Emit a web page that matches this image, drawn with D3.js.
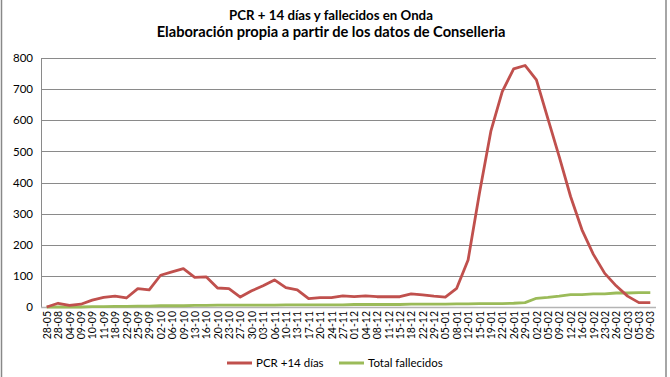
<!DOCTYPE html>
<html>
<head>
<meta charset="utf-8">
<script src="https://cdn.jsdelivr.net/npm/d3@7"></script>
<style>
  body { margin: 0; background: #fff; }
  svg { display: block; font-family: Lato, "Open Sans", sans-serif; }
</style>
</head>
<body>
<svg id="chart"></svg>
<script>
// fechas (eje x)
var fechas = ["28-05","28-08","04-09","09-09","10-09","11-09","18-09","22-09","25-09","29-09",
  "02-10","06-10","09-10","13-10","16-10","20-10","23-10","27-10","30-10","03-11",
  "06-11","10-11","13-11","17-11","20-11","24-11","27-11","01-12","04-12","08-12",
  "11-12","15-12","18-12","22-12","29-12","05-01","08-01","12-01","15-01","19-01",
  "22-01","26-01","29-01","02-02","05-02","09-02","12-02","16-02","19-02","23-02",
  "26-02","02-03","05-03","09-03"];

// PCR +14 dias
var pcr = [0, 12, 5, 9, 22, 31, 35, 29, 59, 55,
  102, 113, 123, 95, 97, 61, 59, 32, 52, 68,
  87, 62, 55, 27, 30, 30, 36, 33, 36, 33,
  33, 33, 42, 39, 35, 32, 60, 151, 366, 565,
  692, 765, 776, 730, 606, 483, 355, 248, 169, 108,
  68, 35, 14, 14];

// Total fallecidos
var fallecidos = [0, 0, 0, 0, 1, 1, 2, 2, 3, 3,
  4, 4, 4, 5, 5, 6, 6, 6, 6, 6,
  6, 7, 7, 7, 7, 7, 7, 8, 8, 8,
  8, 8, 9, 9, 9, 9, 10, 10, 11, 11,
  11, 12, 14, 28, 31, 35, 40, 40, 42, 42,
  45, 45, 46, 46];

var yTicks = [0, 100, 200, 300, 400, 500, 600, 700, 800];

var titulo1 = "PCR + 14 días y fallecidos en Onda";
var titulo2 = "Elaboración propia a partir de los datos de Conselleria";

var width = 670, height = 377;
var margin = {top: 58, right: 14, bottom: 70, left: 41};

var svg = d3.select("#chart")
    .attr("width", width)
    .attr("height", height);

// marco exterior
svg.append("line").attr("x1", 1.5).attr("x2", 1.5).attr("y1", 0).attr("y2", height)
    .attr("stroke", "#888").attr("stroke-width", 1.5);
svg.append("line").attr("x1", 666).attr("x2", 666).attr("y1", 0).attr("y2", height)
    .attr("stroke", "#888").attr("stroke-width", 1.5);

var x = d3.scalePoint()
    .domain(fechas)
    .range([margin.left, width - margin.right])
    .padding(0.5);

var y = d3.scaleLinear()
    .domain([0, 800])
    .range([height - margin.bottom, margin.top]);

// grid
svg.append("g")
    .selectAll("line")
    .data(yTicks.slice(1))
    .join("line")
    .attr("x1", margin.left)
    .attr("x2", width - margin.right)
    .attr("y1", d => Math.round(y(d)) + 0.5)
    .attr("y2", d => Math.round(y(d)) + 0.5)
    .attr("stroke", "#8a8a8a");

// eje y
var yAxis = svg.append("g")
    .attr("transform", "translate(" + margin.left + ",0)")
    .call(d3.axisLeft(y).tickValues(yTicks).tickSize(0).tickPadding(8));
yAxis.select(".domain").attr("stroke", "#8a8a8a");
yAxis.selectAll("text")
    .attr("font-family", "Lato, sans-serif")
    .attr("font-size", 11.5)
    .attr("fill", "#000");

// eje x
var xAxis = svg.append("g")
    .attr("transform", "translate(0," + (height - margin.bottom) + ")")
    .call(d3.axisBottom(x).tickSize(0).tickSizeOuter(0));
xAxis.select(".domain")
    .attr("d", "M" + margin.left + ",0.5H" + (width - margin.right))
    .attr("stroke", "#b4b4b4")
    .attr("stroke-width", 1.5);
xAxis.selectAll("text")
    .attr("font-family", "Lato, sans-serif")
    .attr("font-size", 10.5)
    .attr("fill", "#000")
    .attr("text-anchor", "end")
    .attr("dy", "0.35em")
    .attr("transform", "translate(0,4) rotate(-90)")
    .attr("x", 0)
    .attr("y", 0);

var line = d3.line()
    .x((d, i) => x(fechas[i]))
    .y(d => y(d));

svg.append("path")
    .datum(fallecidos)
    .attr("fill", "none")
    .attr("stroke", "#9bbb59")
    .attr("stroke-width", 2.8)
    .attr("stroke-linejoin", "round")
    .attr("d", line);

svg.append("path")
    .datum(pcr)
    .attr("fill", "none")
    .attr("stroke", "#c0504d")
    .attr("stroke-width", 2.8)
    .attr("stroke-linejoin", "round")
    .attr("d", line);

// titulo
function ajustar(t, ancho) {
    var len = t.node().getComputedTextLength();
    var fs = parseFloat(t.attr("font-size"));
    t.attr("font-size", fs * ancho / len);
}
var t1 = svg.append("text")
    .attr("x", 331).attr("y", 20)
    .attr("text-anchor", "middle")
    .attr("font-weight", "bold")
    .attr("font-size", 14)
    .text(titulo1);
ajustar(t1, 204);
var t2 = svg.append("text")
    .attr("x", 331).attr("y", 37)
    .attr("text-anchor", "middle")
    .attr("font-weight", "bold")
    .attr("font-size", 14)
    .text(titulo2);
ajustar(t2, 349);

// leyenda
var leyenda = [
  {nombre: "PCR +14 días", color: "#c0504d", x: 227},
  {nombre: "Total fallecidos", color: "#9bbb59", x: 339}
];
var lg = svg.append("g").selectAll("g").data(leyenda).join("g")
    .attr("transform", d => "translate(" + d.x + ",363)");
lg.append("line").attr("x1", 0).attr("x2", 25).attr("y1", 0).attr("y2", 0)
    .attr("stroke", d => d.color).attr("stroke-width", 3);
lg.append("text").attr("x", 29).attr("y", 4)
    .attr("font-size", 11.5)
    .text(d => d.nombre);
</script>
</body>
</html>
